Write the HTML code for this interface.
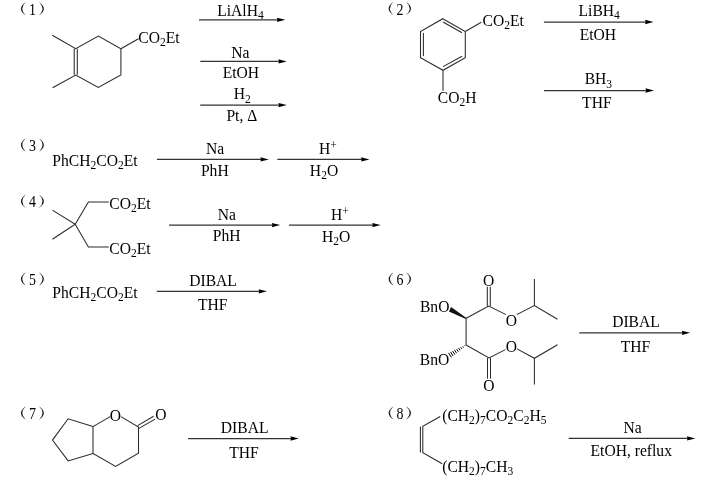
<!DOCTYPE html>
<html><head><meta charset="utf-8"><style>
html,body{margin:0;padding:0;background:#fff;}
svg{display:block;will-change:transform;}
text{font-family:"Liberation Serif", serif; fill:#000;}
</style></head><body>
<svg width="727" height="484" viewBox="0 0 727 484">
<path d="M25.80,1.90 Q16.00,8.65 25.80,15.40 Q18.80,8.65 25.80,1.90 Z" fill="#222"/><path d="M39.00,1.90 Q48.80,8.65 39.00,15.40 Q46.00,8.65 39.00,1.90 Z" fill="#222"/><text x="38.12" y="14.70" font-size="16.4" text-anchor="middle" transform="scale(0.85,1)">1</text>
<path d="M52.30,35.20 L75.70,48.60 L98.40,36.10 L120.90,48.80 L120.90,74.90 L98.30,87.50 L75.70,75.00 L52.60,87.80" fill="none" stroke="#2a2a2a" stroke-width="1.05"/>
<path d="M74.20,48.80 L74.20,74.80" fill="none" stroke="#2a2a2a" stroke-width="1.05"/>
<path d="M77.30,48.80 L77.30,74.80" fill="none" stroke="#2a2a2a" stroke-width="1.05"/>
<path d="M120.90,48.80 L138.50,38.80" fill="none" stroke="#2a2a2a" stroke-width="1.05"/>
<text transform="translate(138.36,42.50) scale(0.975,1)" font-size="16.0"><tspan>CO</tspan><tspan font-size="11.8" dy="3.30">2</tspan><tspan dy="-3.30">Et</tspan></text>
<path d="M199.00,19.80 L277.90,19.80" stroke="#333" stroke-width="1.25"/><path d="M285.30,19.80 L276.90,17.65 L277.50,19.80 L276.90,21.95 Z" fill="#000"/>
<text transform="translate(217.25,15.50) scale(0.975,1)" font-size="16.0"><tspan>LiAlH</tspan><tspan font-size="11.8" dy="3.30">4</tspan></text>
<path d="M200.30,61.40 L279.40,61.40" stroke="#333" stroke-width="1.25"/><path d="M286.80,61.40 L278.40,59.25 L279.00,61.40 L278.40,63.55 Z" fill="#000"/>
<text transform="translate(231.25,58.00) scale(0.975,1)" font-size="16.0"><tspan>Na</tspan></text>
<text transform="translate(222.65,77.50) scale(0.975,1)" font-size="16.0"><tspan>EtOH</tspan></text>
<path d="M200.20,105.10 L279.40,105.10" stroke="#333" stroke-width="1.25"/><path d="M286.80,105.10 L278.40,102.95 L279.00,105.10 L278.40,107.25 Z" fill="#000"/>
<text transform="translate(233.75,99.20) scale(0.975,1)" font-size="16.0"><tspan>H</tspan><tspan font-size="11.8" dy="3.30">2</tspan></text>
<text transform="translate(226.45,120.70) scale(0.975,1)" font-size="16.0"><tspan>Pt, Δ</tspan></text>
<path d="M393.50,1.70 Q383.70,8.45 393.50,15.20 Q386.50,8.45 393.50,1.70 Z" fill="#222"/><path d="M406.10,1.70 Q415.90,8.45 406.10,15.20 Q413.10,8.45 406.10,1.70 Z" fill="#222"/><text x="470.71" y="14.50" font-size="16.4" text-anchor="middle" transform="scale(0.85,1)">2</text>
<path d="M442.80,18.70 L465.30,31.50 L465.30,57.60 L443.00,70.30 L420.50,57.60 L420.50,31.50 L442.80,18.70 L443.20,18.90" fill="none" stroke="#2a2a2a" stroke-width="1.05"/>
<path d="M423.40,33.00 L423.40,56.00" fill="none" stroke="#2a2a2a" stroke-width="1.05"/>
<path d="M443.00,22.00 L462.00,32.80" fill="none" stroke="#2a2a2a" stroke-width="1.05"/>
<path d="M443.00,66.60 L462.00,56.20" fill="none" stroke="#2a2a2a" stroke-width="1.05"/>
<path d="M465.30,31.50 L481.30,22.30" fill="none" stroke="#2a2a2a" stroke-width="1.05"/>
<path d="M443.00,70.30 L443.00,90.80" fill="none" stroke="#2a2a2a" stroke-width="1.05"/>
<text transform="translate(482.56,25.60) scale(0.975,1)" font-size="16.0"><tspan>CO</tspan><tspan font-size="11.8" dy="3.30">2</tspan><tspan dy="-3.30">Et</tspan></text>
<text transform="translate(437.76,102.80) scale(0.975,1)" font-size="16.0"><tspan>CO</tspan><tspan font-size="11.8" dy="3.30">2</tspan><tspan dy="-3.30">H</tspan></text>
<path d="M543.90,22.00 L646.10,22.00" stroke="#333" stroke-width="1.25"/><path d="M653.50,22.00 L645.10,19.85 L645.70,22.00 L645.10,24.15 Z" fill="#000"/>
<text transform="translate(578.55,15.70) scale(0.975,1)" font-size="16.0"><tspan>LiBH</tspan><tspan font-size="11.8" dy="3.30">4</tspan></text>
<text transform="translate(579.75,39.70) scale(0.975,1)" font-size="16.0"><tspan>EtOH</tspan></text>
<path d="M543.90,90.50 L646.50,90.50" stroke="#333" stroke-width="1.25"/><path d="M653.90,90.50 L645.50,88.35 L646.10,90.50 L645.50,92.65 Z" fill="#000"/>
<text transform="translate(584.65,84.20) scale(0.975,1)" font-size="16.0"><tspan>BH</tspan><tspan font-size="11.8" dy="3.30">3</tspan></text>
<text transform="translate(582.12,108.00) scale(0.975,1)" font-size="16.0"><tspan>THF</tspan></text>
<path d="M25.80,138.20 Q16.00,144.95 25.80,151.70 Q18.80,144.95 25.80,138.20 Z" fill="#222"/><path d="M39.00,138.20 Q48.80,144.95 39.00,151.70 Q46.00,144.95 39.00,138.20 Z" fill="#222"/><text x="38.12" y="151.00" font-size="16.4" text-anchor="middle" transform="scale(0.85,1)">3</text>
<text transform="translate(52.35,166.00) scale(0.975,1)" font-size="16.0"><tspan>PhCH</tspan><tspan font-size="11.8" dy="3.30">2</tspan><tspan dy="-3.30">CO</tspan><tspan font-size="11.8" dy="3.30">2</tspan><tspan dy="-3.30">Et</tspan></text>
<path d="M156.90,159.40 L261.40,159.40" stroke="#333" stroke-width="1.25"/><path d="M268.80,159.40 L260.40,157.25 L261.00,159.40 L260.40,161.55 Z" fill="#000"/>
<text transform="translate(206.05,154.00) scale(0.975,1)" font-size="16.0"><tspan>Na</tspan></text>
<text transform="translate(200.95,175.60) scale(0.975,1)" font-size="16.0"><tspan>PhH</tspan></text>
<path d="M277.30,159.40 L362.10,159.40" stroke="#333" stroke-width="1.25"/><path d="M369.50,159.40 L361.10,157.25 L361.70,159.40 L361.10,161.55 Z" fill="#000"/>
<text transform="translate(318.95,154.40) scale(0.975,1)" font-size="16.0"><tspan>H</tspan><tspan font-size="11.8" dy="-5.00">+</tspan></text>
<text transform="translate(309.85,175.90) scale(0.975,1)" font-size="16.0"><tspan>H</tspan><tspan font-size="11.8" dy="3.30">2</tspan><tspan dy="-3.30">O</tspan></text>
<path d="M25.80,194.40 Q16.00,201.15 25.80,207.90 Q18.80,201.15 25.80,194.40 Z" fill="#222"/><path d="M39.00,194.40 Q48.80,201.15 39.00,207.90 Q46.00,201.15 39.00,194.40 Z" fill="#222"/><text x="38.12" y="207.20" font-size="16.4" text-anchor="middle" transform="scale(0.85,1)">4</text>
<path d="M52.40,210.10 L75.20,224.30 L52.40,239.20" fill="none" stroke="#2a2a2a" stroke-width="1.05"/>
<path d="M75.20,224.30 L88.40,202.00 L108.80,202.00" fill="none" stroke="#2a2a2a" stroke-width="1.05"/>
<path d="M75.20,224.30 L88.40,247.00 L108.80,247.00" fill="none" stroke="#2a2a2a" stroke-width="1.05"/>
<text transform="translate(109.36,208.50) scale(0.975,1)" font-size="16.0"><tspan>CO</tspan><tspan font-size="11.8" dy="3.30">2</tspan><tspan dy="-3.30">Et</tspan></text>
<text transform="translate(109.36,253.50) scale(0.975,1)" font-size="16.0"><tspan>CO</tspan><tspan font-size="11.8" dy="3.30">2</tspan><tspan dy="-3.30">Et</tspan></text>
<path d="M169.10,225.10 L272.80,225.10" stroke="#333" stroke-width="1.25"/><path d="M280.20,225.10 L271.80,222.95 L272.40,225.10 L271.80,227.25 Z" fill="#000"/>
<text transform="translate(217.65,219.80) scale(0.975,1)" font-size="16.0"><tspan>Na</tspan></text>
<text transform="translate(212.85,240.70) scale(0.975,1)" font-size="16.0"><tspan>PhH</tspan></text>
<path d="M289.00,225.10 L373.30,225.10" stroke="#333" stroke-width="1.25"/><path d="M380.70,225.10 L372.30,222.95 L372.90,225.10 L372.30,227.25 Z" fill="#000"/>
<text transform="translate(330.95,219.80) scale(0.975,1)" font-size="16.0"><tspan>H</tspan><tspan font-size="11.8" dy="-5.00">+</tspan></text>
<text transform="translate(322.05,241.60) scale(0.975,1)" font-size="16.0"><tspan>H</tspan><tspan font-size="11.8" dy="3.30">2</tspan><tspan dy="-3.30">O</tspan></text>
<path d="M25.80,272.20 Q16.00,278.95 25.80,285.70 Q18.80,278.95 25.80,272.20 Z" fill="#222"/><path d="M39.00,272.20 Q48.80,278.95 39.00,285.70 Q46.00,278.95 39.00,272.20 Z" fill="#222"/><text x="38.12" y="285.00" font-size="16.4" text-anchor="middle" transform="scale(0.85,1)">5</text>
<text transform="translate(52.35,297.80) scale(0.975,1)" font-size="16.0"><tspan>PhCH</tspan><tspan font-size="11.8" dy="3.30">2</tspan><tspan dy="-3.30">CO</tspan><tspan font-size="11.8" dy="3.30">2</tspan><tspan dy="-3.30">Et</tspan></text>
<path d="M156.80,291.30 L259.60,291.30" stroke="#333" stroke-width="1.25"/><path d="M267.00,291.30 L258.60,289.15 L259.20,291.30 L258.60,293.45 Z" fill="#000"/>
<text transform="translate(189.25,285.90) scale(0.975,1)" font-size="16.0"><tspan>DIBAL</tspan></text>
<text transform="translate(198.02,309.70) scale(0.975,1)" font-size="16.0"><tspan>THF</tspan></text>
<path d="M393.50,272.20 Q383.70,278.95 393.50,285.70 Q386.50,278.95 393.50,272.20 Z" fill="#222"/><path d="M406.10,272.20 Q415.90,278.95 406.10,285.70 Q413.10,278.95 406.10,272.20 Z" fill="#222"/><text x="470.71" y="285.00" font-size="16.4" text-anchor="middle" transform="scale(0.85,1)">6</text>
<text transform="translate(419.95,312.00) scale(0.975,1)" font-size="16.0"><tspan>BnO</tspan></text>
<text transform="translate(419.85,364.50) scale(0.975,1)" font-size="16.0"><tspan>BnO</tspan></text>
<path d="M451.1,307.0 L466.4,318.0 L466.0,319.0 L448.9,311.5 Z" fill="#111"/>
<path d="M465.22,346.10 L464.73,345.31 M463.49,347.52 L462.70,346.25 M461.76,348.93 L460.67,347.20 M460.03,350.34 L458.65,348.14 M458.30,351.75 L456.62,349.08 M456.57,353.17 L454.60,350.02 M454.84,354.58 L452.57,350.97 M453.11,355.99 L450.55,351.91 M451.38,357.41 L448.52,352.85 " stroke="#000" stroke-width="1.0"/>
<path d="M466.10,318.30 L466.10,345.00" fill="none" stroke="#2a2a2a" stroke-width="1.05"/>
<path d="M466.10,318.30 L488.70,306.00 L506.00,314.60" fill="none" stroke="#2a2a2a" stroke-width="1.05"/>
<path d="M487.30,306.00 L487.30,286.80" fill="none" stroke="#2a2a2a" stroke-width="1.05"/>
<path d="M490.30,306.00 L490.30,286.80" fill="none" stroke="#2a2a2a" stroke-width="1.05"/>
<text transform="translate(483.06,286.30) scale(0.975,1)" font-size="16.0"><tspan>O</tspan></text>
<text transform="translate(505.86,325.50) scale(0.975,1)" font-size="16.0"><tspan>O</tspan></text>
<path d="M516.70,314.60 L534.40,305.50 L557.50,319.20" fill="none" stroke="#2a2a2a" stroke-width="1.05"/>
<path d="M534.40,305.50 L534.40,279.10" fill="none" stroke="#2a2a2a" stroke-width="1.05"/>
<path d="M466.10,345.00 L489.00,358.00 L505.40,349.60" fill="none" stroke="#2a2a2a" stroke-width="1.05"/>
<path d="M487.50,358.00 L487.50,378.60" fill="none" stroke="#2a2a2a" stroke-width="1.05"/>
<path d="M490.50,358.00 L490.50,378.60" fill="none" stroke="#2a2a2a" stroke-width="1.05"/>
<text transform="translate(483.36,390.90) scale(0.975,1)" font-size="16.0"><tspan>O</tspan></text>
<text transform="translate(505.66,351.60) scale(0.975,1)" font-size="16.0"><tspan>O</tspan></text>
<path d="M517.00,348.90 L534.40,358.30 L557.50,344.80" fill="none" stroke="#2a2a2a" stroke-width="1.05"/>
<path d="M534.40,358.30 L534.40,384.40" fill="none" stroke="#2a2a2a" stroke-width="1.05"/>
<path d="M579.30,332.80 L682.80,332.80" stroke="#333" stroke-width="1.25"/><path d="M690.20,332.80 L681.80,330.65 L682.40,332.80 L681.80,334.95 Z" fill="#000"/>
<text transform="translate(612.15,327.20) scale(0.975,1)" font-size="16.0"><tspan>DIBAL</tspan></text>
<text transform="translate(620.72,352.20) scale(0.975,1)" font-size="16.0"><tspan>THF</tspan></text>
<path d="M25.80,406.20 Q16.00,412.95 25.80,419.70 Q18.80,412.95 25.80,406.20 Z" fill="#222"/><path d="M39.00,406.20 Q48.80,412.95 39.00,419.70 Q46.00,412.95 39.00,406.20 Z" fill="#222"/><text x="38.12" y="419.00" font-size="16.4" text-anchor="middle" transform="scale(0.85,1)">7</text>
<path d="M93.00,426.60 L68.10,418.80 L52.50,440.10 L68.10,460.90 L93.00,453.40" fill="none" stroke="#2a2a2a" stroke-width="1.05"/>
<path d="M93.00,426.60 L93.00,453.40 L115.60,466.40 L138.50,453.20 L138.50,427.00 L120.90,416.60" fill="none" stroke="#2a2a2a" stroke-width="1.05"/>
<path d="M93.00,426.60 L110.20,416.60" fill="none" stroke="#2a2a2a" stroke-width="1.05"/>
<text transform="translate(109.86,420.80) scale(0.975,1)" font-size="16.0"><tspan>O</tspan></text>
<path d="M138.90,428.40 L155.10,419.10" fill="none" stroke="#2a2a2a" stroke-width="1.05"/>
<path d="M137.60,425.60 L153.60,416.30" fill="none" stroke="#2a2a2a" stroke-width="1.05"/>
<text transform="translate(155.36,420.30) scale(0.975,1)" font-size="16.0"><tspan>O</tspan></text>
<path d="M188.10,438.50 L291.40,438.50" stroke="#333" stroke-width="1.25"/><path d="M298.80,438.50 L290.40,436.35 L291.00,438.50 L290.40,440.65 Z" fill="#000"/>
<text transform="translate(220.85,432.90) scale(0.975,1)" font-size="16.0"><tspan>DIBAL</tspan></text>
<text transform="translate(229.32,458.00) scale(0.975,1)" font-size="16.0"><tspan>THF</tspan></text>
<path d="M393.50,406.20 Q383.70,412.95 393.50,419.70 Q386.50,412.95 393.50,406.20 Z" fill="#222"/><path d="M406.10,406.20 Q415.90,412.95 406.10,419.70 Q413.10,412.95 406.10,406.20 Z" fill="#222"/><text x="470.71" y="419.00" font-size="16.4" text-anchor="middle" transform="scale(0.85,1)">8</text>
<path d="M440.20,416.50 L422.80,426.20 L422.80,452.70 L442.20,463.70" fill="none" stroke="#2a2a2a" stroke-width="1.05"/>
<path d="M420.40,426.50 L420.40,452.50" fill="none" stroke="#2a2a2a" stroke-width="1.05"/>
<text transform="translate(442.21,420.50) scale(0.975,1)" font-size="16.0"><tspan>(CH</tspan><tspan font-size="11.8" dy="3.30">2</tspan><tspan dy="-3.30">)</tspan><tspan font-size="11.8" dy="3.30">7</tspan><tspan dy="-3.30">CO</tspan><tspan font-size="11.8" dy="3.30">2</tspan><tspan dy="-3.30">C</tspan><tspan font-size="11.8" dy="3.30">2</tspan><tspan dy="-3.30">H</tspan><tspan font-size="11.8" dy="3.30">5</tspan></text>
<text transform="translate(442.21,471.50) scale(0.975,1)" font-size="16.0"><tspan>(CH</tspan><tspan font-size="11.8" dy="3.30">2</tspan><tspan dy="-3.30">)</tspan><tspan font-size="11.8" dy="3.30">7</tspan><tspan dy="-3.30">CH</tspan><tspan font-size="11.8" dy="3.30">3</tspan></text>
<path d="M568.70,438.40 L687.90,438.40" stroke="#333" stroke-width="1.25"/><path d="M695.30,438.40 L686.90,436.25 L687.50,438.40 L686.90,440.55 Z" fill="#000"/>
<text transform="translate(623.55,432.70) scale(0.975,1)" font-size="16.0"><tspan>Na</tspan></text>
<text transform="translate(590.55,455.80) scale(0.975,1)" font-size="16.0"><tspan>EtOH, reflux</tspan></text>
</svg>
</body></html>
